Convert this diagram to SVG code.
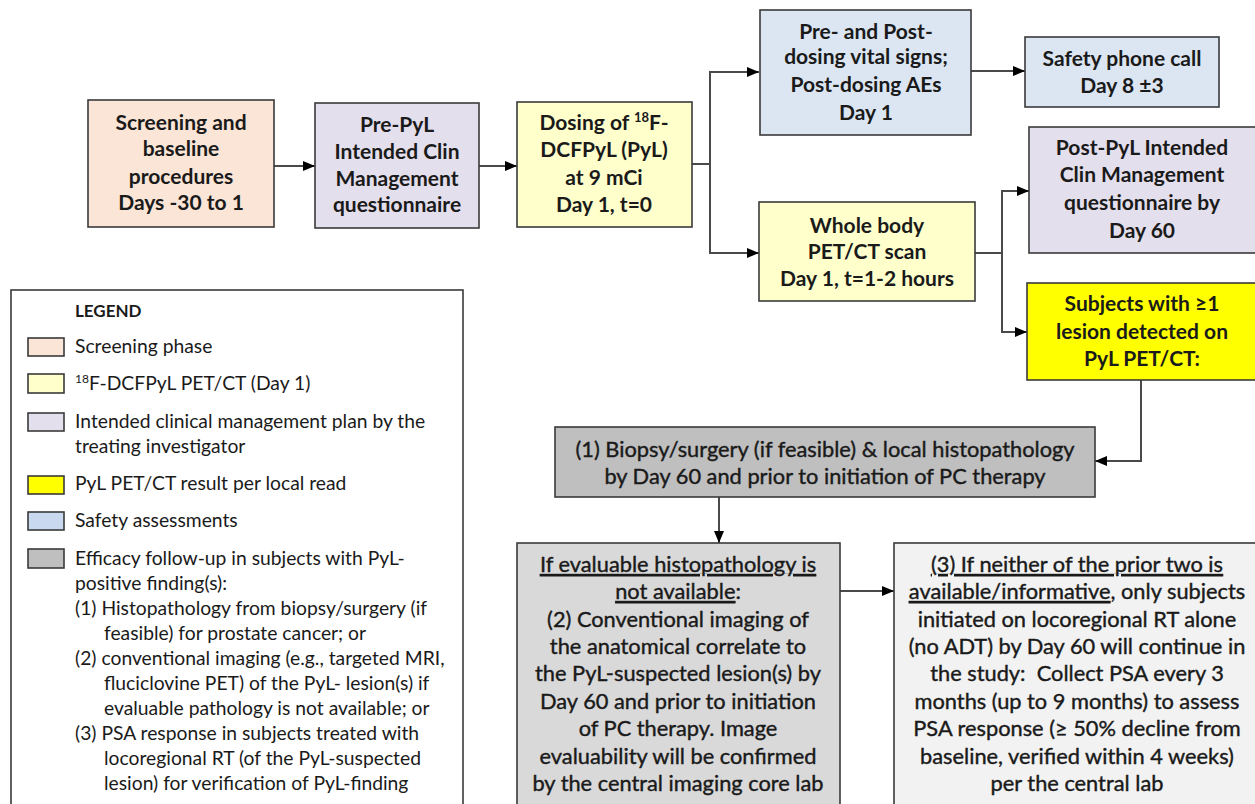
<svg xmlns="http://www.w3.org/2000/svg" width="1255" height="804" viewBox="0 0 1255 804">
<defs>
<marker id="ah" markerWidth="12" markerHeight="10" refX="12" refY="5" orient="auto" markerUnits="userSpaceOnUse">
<path d="M0,0 L12,5 L0,10 Z" fill="#000"/>
</marker>
<style>
.box{stroke:#3a3a3a;stroke-width:1.6}
.t{font-family:Lato,"Open Sans","Liberation Sans",sans-serif;font-weight:700;font-size:21px;fill:#1a1a1a;text-anchor:middle}
.b{font-family:Lato,"Open Sans","Liberation Sans",sans-serif;font-weight:400;font-size:21.8px;fill:#1a1a1a;stroke:#1a1a1a;stroke-width:0.4;text-anchor:middle}
.l{font-family:Lato,"Open Sans","Liberation Sans",sans-serif;font-weight:400;font-size:19.3px;fill:#1a1a1a}
.lh{font-family:Lato,"Open Sans","Liberation Sans",sans-serif;font-weight:700;font-size:17px;fill:#1a1a1a}
.c{fill:none;stroke:#4a4a4a;stroke-width:2}
.peach{fill:#FBE5D6}.lav{fill:#E4DFEC}.lyel{fill:#FFFFCC}.blue{fill:#DCE6F2}.yel{fill:#FFFF00}
.g1{fill:#BFBFBF}.g2{fill:#D9D9D9}.g3{fill:#F2F2F2}
.u{text-decoration:underline}
</style>
</defs>
<rect width="1255" height="804" fill="#fff"/>

<g id="connectors">
<path class="c" d="M274,166 H315" marker-end="url(#ah)"/>
<path class="c" d="M479,166 H517" marker-end="url(#ah)"/>
<path class="c" d="M692,164 H710"/>
<path class="c" d="M710,164 V72 H759" marker-end="url(#ah)"/>
<path class="c" d="M710,164 V253 H759" marker-end="url(#ah)"/>
<path class="c" d="M971,71 H1025" marker-end="url(#ah)"/>
<path class="c" d="M975,253 H1002"/>
<path class="c" d="M1002,253 V191 H1029" marker-end="url(#ah)"/>
<path class="c" d="M1002,253 V332 H1027" marker-end="url(#ah)"/>
<path class="c" d="M1141,380 V461 H1095" marker-end="url(#ah)"/>
<path class="c" d="M719,497 V543" marker-end="url(#ah)"/>
<path class="c" d="M840,591 H894" marker-end="url(#ah)"/>
</g>

<g id="screening">
<rect class="box peach" x="88" y="100" width="186" height="127"/>
<text class="t" x="181" y="130">Screening and</text>
<text class="t" x="181" y="156">baseline</text>
<text class="t" x="181" y="184">procedures</text>
<text class="t" x="181" y="210">Days -30 to 1</text>
</g>

<g id="prepyl">
<rect class="box lav" x="315" y="103" width="164" height="125"/>
<text class="t" x="397" y="132">Pre-PyL</text>
<text class="t" x="397" y="159">Intended Clin</text>
<text class="t" x="397" y="186">Management</text>
<text class="t" x="397" y="212">questionnaire</text>
</g>

<g id="dosing">
<rect class="box lyel" x="517" y="102" width="175" height="125"/>
<text class="t" x="604" y="130">Dosing of <tspan font-size="13" baseline-shift="super">18</tspan>F-</text>
<text class="t" x="604" y="157">DCFPyL (PyL)</text>
<text class="t" x="604" y="185">at 9 mCi</text>
<text class="t" x="604" y="212">Day 1, t=0</text>
</g>

<g id="prepost">
<rect class="box blue" x="760" y="10" width="211" height="125"/>
<text class="t" x="866" y="39">Pre- and Post-</text>
<text class="t" x="866" y="64">dosing vital signs;</text>
<text class="t" x="866" y="92">Post-dosing AEs</text>
<text class="t" x="866" y="120">Day 1</text>
</g>

<g id="phonecall">
<rect class="box blue" x="1025" y="37" width="194" height="70"/>
<text class="t" x="1122" y="66">Safety phone call</text>
<text class="t" x="1122" y="93">Day 8 ±3</text>
</g>

<g id="wholebody">
<rect class="box lyel" x="759" y="202" width="216" height="99"/>
<text class="t" x="867" y="233">Whole body</text>
<text class="t" x="867" y="259">PET/CT scan</text>
<text class="t" x="867" y="286">Day 1, t=1-2 hours</text>
</g>

<g id="postpyl">
<rect class="box lav" x="1029" y="127" width="240" height="126"/>
<text class="t" x="1142" y="155">Post-PyL Intended</text>
<text class="t" x="1142" y="182">Clin Management</text>
<text class="t" x="1142" y="210">questionnaire by</text>
<text class="t" x="1142" y="238">Day 60</text>
</g>

<g id="subjects">
<rect class="box yel" x="1027" y="283" width="240" height="97"/>
<text class="t" x="1142" y="311">Subjects with ≥1</text>
<text class="t" x="1142" y="339">lesion detected on</text>
<text class="t" x="1142" y="366">PyL PET/CT:</text>
</g>

<g id="biopsy">
<rect class="box g1" x="555" y="427" width="540" height="70" stroke-width="2"/>
<text class="b" x="825" y="457">(1) Biopsy/surgery (if feasible) &amp; local histopathology</text>
<text class="b" x="825" y="484">by Day 60 and prior to initiation of PC therapy</text>
</g>

<g id="imaging">
<rect class="box g2" x="517" y="543" width="323" height="270"/>
<text class="b" x="678" y="572"><tspan class="u">If evaluable histopathology is</tspan></text>
<text class="b" x="678" y="599"><tspan class="u">not available</tspan>:</text>
<text class="b" x="678" y="627">(2) Conventional imaging of</text>
<text class="b" x="678" y="654">the anatomical correlate to</text>
<text class="b" x="678" y="681">the PyL-suspected lesion(s) by</text>
<text class="b" x="678" y="709">Day 60 and prior to initiation</text>
<text class="b" x="678" y="736">of PC therapy. Image</text>
<text class="b" x="678" y="764">evaluability will be confirmed</text>
<text class="b" x="678" y="791">by the central imaging core lab</text>
</g>

<g id="psa">
<rect class="box g3" x="894" y="543" width="380" height="270"/>
<text class="b" x="1077" y="572"><tspan class="u">(3) If neither of the prior two is</tspan></text>
<text class="b" x="1077" y="599"><tspan class="u">available/informative</tspan>, only subjects</text>
<text class="b" x="1077" y="627">initiated on locoregional RT alone</text>
<text class="b" x="1077" y="654">(no ADT) by Day 60 will continue in</text>
<text class="b" x="1077" y="681" xml:space="preserve">the study:  Collect PSA every 3</text>
<text class="b" x="1077" y="709">months (up to 9 months) to assess</text>
<text class="b" x="1077" y="736">PSA response (≥ 50% decline from</text>
<text class="b" x="1077" y="764">baseline, verified within 4 weeks)</text>
<text class="b" x="1077" y="791">per the central lab</text>
</g>

<g id="legend">
<rect x="11" y="290" width="452" height="530" fill="#fff" stroke="#3a3a3a" stroke-width="1.6"/>
<text class="lh" x="75" y="317">LEGEND</text>
<rect class="box peach" x="28" y="338" width="36" height="18"/>
<text class="l" x="75" y="353">Screening phase</text>
<rect class="box lyel" x="28" y="374" width="36" height="19"/>
<text class="l" x="75" y="390"><tspan font-size="12" baseline-shift="super">18</tspan>F-DCFPyL PET/CT (Day 1)</text>
<rect class="box lav" x="28" y="413" width="36" height="18"/>
<text class="l" x="75" y="428">Intended clinical management plan by the</text>
<text class="l" x="75" y="453">treating investigator</text>
<rect class="box yel" x="28" y="476" width="36" height="18"/>
<text class="l" x="75" y="490">PyL PET/CT result per local read</text>
<rect class="box" fill="#C9DAF0" x="28" y="512" width="36" height="18"/>
<text class="l" x="75" y="527">Safety assessments</text>
<rect class="box g1" x="28" y="549" width="36" height="19"/>
<text class="l" x="75" y="565">Efficacy follow-up in subjects with PyL-</text>
<text class="l" x="75" y="590">positive finding(s):</text>
<text class="l" x="75" y="615">(1) Histopathology from biopsy/surgery (if</text>
<text class="l" x="104" y="640">feasible) for prostate cancer; or</text>
<text class="l" x="75" y="665">(2) conventional imaging (e.g., targeted MRI,</text>
<text class="l" x="104" y="690">fluciclovine PET) of the PyL- lesion(s) if</text>
<text class="l" x="104" y="715">evaluable pathology is not available; or</text>
<text class="l" x="75" y="740">(3) PSA response in subjects treated with</text>
<text class="l" x="104" y="765">locoregional RT (of the PyL-suspected</text>
<text class="l" x="104" y="790">lesion) for verification of PyL-finding</text>
</g>
</svg>
